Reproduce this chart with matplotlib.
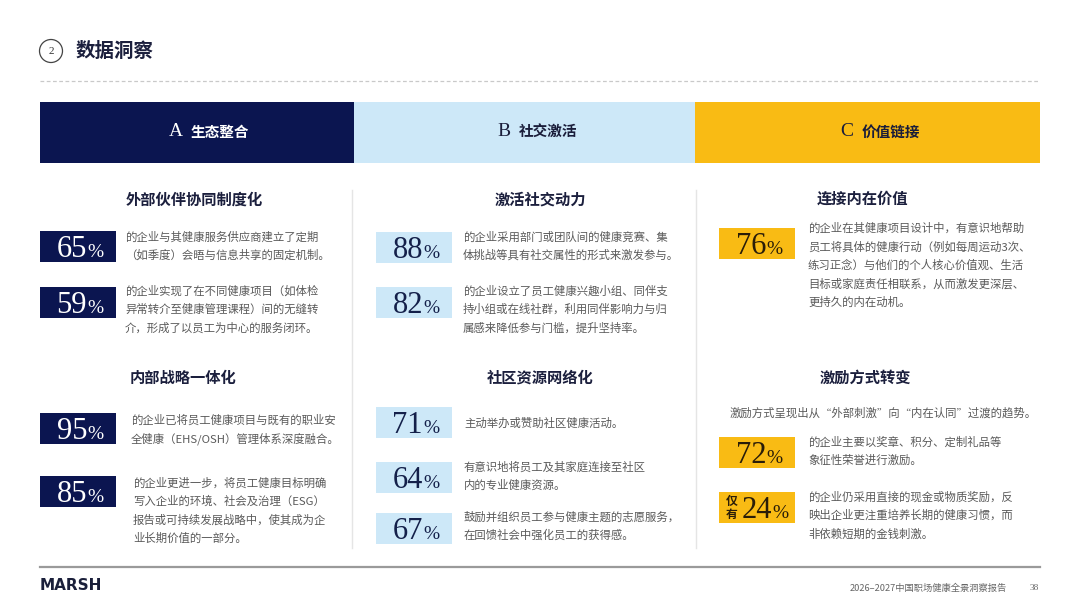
import matplotlib
matplotlib.use('Agg')
import matplotlib.pyplot as plt
from matplotlib.patches import Rectangle, Circle

plt.rcParams['font.family'] = ['Noto Sans CJK SC', 'DejaVu Sans']

# ---- data ----
page_title = '数据洞察'
section_letters = ['A', 'B', 'C']
section_names = ['生态整合', '社交激活', '价值链接']
group_titles = ['外部伙伴协同制度化', '内部战略一体化', '激活社交动力',
                '社区资源网络化', '连接内在价值', '激励方式转变']
pct_values = [65, 59, 95, 85, 88, 82, 71, 64, 67, 76, 72, 24]
pct_column = [0, 0, 0, 0, 1, 1, 1, 1, 1, 2, 2, 2]
pct_prefix = [''] * 11 + ['仅有']
pct_notes = [
    ['的企业与其健康服务供应商建立了定期', '（如季度）会晤与信息共享的固定机制。'],
    ['的企业实现了在不同健康项目（如体检', '异常转介至健康管理课程）间的无缝转', '介，形成了以员工为中心的服务闭环。'],
    ['的企业已将员工健康项目与既有的职业安', '全健康（EHS/OSH）管理体系深度融合。'],
    ['的企业更进一步，将员工健康目标明确', '写入企业的环境、社会及治理（ESG）',
     '报告或可持续发展战略中，使其成为企', '业长期价值的一部分。'],
    ['的企业采用部门或团队间的健康竞赛、集', '体挑战等具有社交属性的形式来激发参与。'],
    ['的企业设立了员工健康兴趣小组、同伴支', '持小组或在线社群，利用同伴影响力与归', '属感来降低参与门槛，提升坚持率。'],
    ['主动举办或赞助社区健康活动。'],
    ['有意识地将员工及其家庭连接至社区', '内的专业健康资源。'],
    ['鼓励并组织员工参与健康主题的志愿服务，', '在回馈社会中强化员工的获得感。'],
    ['的企业在其健康项目设计中，有意识地帮助', '员工将具体的健康行动（例如每周运动3次、',
     '练习正念）与他们的个人核心价值观、生活', '目标或家庭责任相联系，从而激发更深层、', '更持久的内在动机。'],
    ['的企业主要以奖章、积分、定制礼品等', '象征性荣誉进行激励。'],
    ['的企业仍采用直接的现金或物质奖励，反', '映出企业更注重培养长期的健康习惯，而', '非依赖短期的金钱刺激。'],
]
intro_note = '激励方式呈现出从“外部刺激”向“内在认同”过渡的趋势。'
footer_brand = 'MARSH'
footer_report = '2026–2027中国职场健康全景洞察报告'
page_number = '38'

# ---- styles / layout ----
navy = '#0b1550'
light_blue = '#cde8f8'
yellow = '#f9bb14'
band_colors = [navy, light_blue, yellow]
band_text = ['white', '#1a1d3a', '#1a1d3a']
box_num_color = ['white', '#14204a', '#2a1d08']
heading_color = '#1b1f3d'
body_color = '#5a5a5a'

band_x = [40, 354, 695, 1040]
col_box_x = [40, 376, 719]
col_text_x = [[125, 125, 131, 133], [463, 463, 464, 464, 464], [808, 808, 808]]
group_pos = [(194, 200), (183, 378), (540, 200), (540, 378), (863, 199), (865, 378)]
box_tops = [231, 287, 413, 476, 232, 287, 407, 462, 513, 228, 437, 492]
first_line = [237, 291, 420, 483, 237, 291, 423, 467, 517, 228, 442, 497]
box_w, box_h = 76, 31
line_gap = 18.5

fig = plt.figure(figsize=(10.8, 6.08), dpi=100)
ax = fig.add_axes([0, 0, 1, 1])
ax.set_xlim(0, 1080)
ax.set_ylim(608, 0)
ax.axis('off')

# page title
ax.add_patch(Circle((51, 51), 11.5, fill=False, edgecolor='#444444', lw=0.9))
ax.text(51, 51.5, '2', fontsize=8, family='Liberation Serif', color='#333333',
        ha='center', va='center')
ax.text(76, 51, page_title, fontsize=14, fontweight='bold', color=heading_color,
        ha='left', va='center')
ax.plot([40, 1040], [81, 81], color='#c9c9c9', lw=0.9, ls=(0, (3, 2)))

# section bands
for i in range(3):
    x0, x1 = band_x[i], band_x[i + 1]
    ax.add_patch(Rectangle((x0, 102), x1 - x0, 61, facecolor=band_colors[i], edgecolor='none'))
    cx = (x0 + x1) / 2
    ax.text(cx - 14, 132, section_letters[i], fontsize=14, family='Liberation Serif',
            color=band_text[i], ha='right', va='center')
    ax.text(cx - 6, 132, section_names[i], fontsize=10.5, fontweight='bold',
            color=band_text[i], ha='left', va='center')

# column separators
for sx in [352, 696]:
    ax.plot([sx, sx], [190, 548], color='#e5e5e5', lw=1.0)

# group headings
for title, (gx, gy) in zip(group_titles, group_pos):
    ax.text(gx, gy, title, fontsize=11, fontweight='bold', color=heading_color,
            ha='center', va='center')

ax.text(883, 413, intro_note, fontsize=8.2, color=body_color, ha='center', va='center')

# percentage boxes and notes
col_count = [0, 0, 0]
for k, val in enumerate(pct_values):
    c = pct_column[k]
    bx = col_box_x[c]
    top = box_tops[k]
    ax.add_patch(Rectangle((bx, top), box_w, box_h, facecolor=band_colors[c], edgecolor='none'))
    shift = 6 if pct_prefix[k] else 0
    ax.text(bx + 47 + shift, top + 26, str(val), fontsize=22, family='Liberation Serif',
            color=box_num_color[c], ha='right', va='baseline')
    ax.text(bx + 47 + shift, top + 26, '%', fontsize=14, family='Liberation Serif',
            color=box_num_color[c], ha='left', va='baseline')
    if pct_prefix[k]:
        for j, ch in enumerate(pct_prefix[k]):
            ax.text(bx + 13, top + 9 + j * 13, ch, fontsize=8.5, fontweight='bold',
                    color=box_num_color[c], ha='center', va='center')
    tx = col_text_x[c][col_count[c]]
    col_count[c] += 1
    for j, line in enumerate(pct_notes[k]):
        ax.text(tx, first_line[k] + j * line_gap, line, fontsize=8.2, color=body_color,
                ha='left', va='center')

# footer
ax.plot([40, 1040], [567, 567], color='#9a9a9a', lw=1.6)
ax.text(40, 586, footer_brand, fontsize=11, fontweight='bold', family='DejaVu Sans',
        color='#1a1f3a', ha='left', va='center')
ax.text(1007, 588, footer_report, fontsize=6.7, color='#666666', ha='right', va='center')
ax.text(1034, 588, page_number, fontsize=6.7, family='Liberation Serif', color='#666666',
        ha='center', va='center')

fig.savefig('out.png', dpi=100, facecolor='white')
